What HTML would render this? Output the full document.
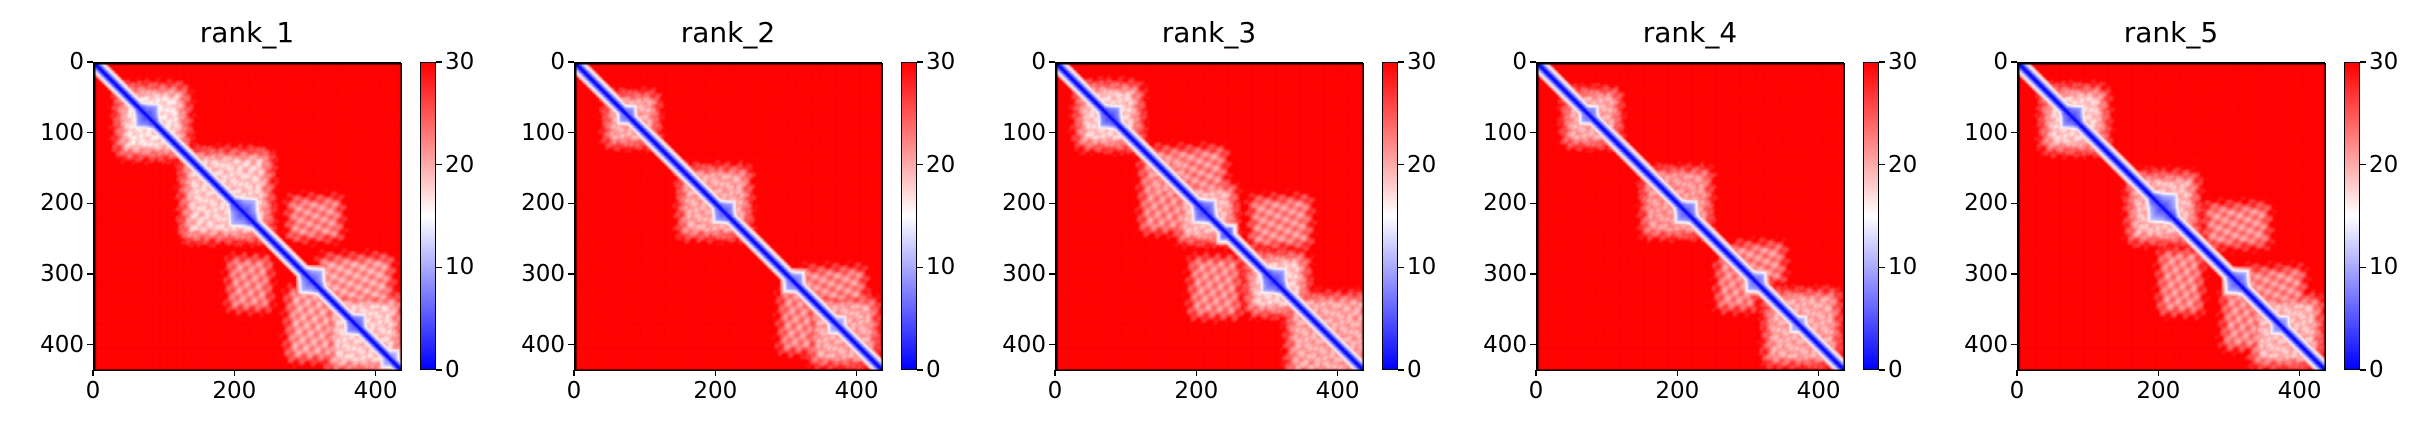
<!DOCTYPE html>
<html><head><meta charset="utf-8">
<style>
html,body{margin:0;padding:0;background:#fff;}
#fig{position:relative;width:2435px;height:438px;overflow:hidden;font-family:"DejaVu Sans","Liberation Sans",sans-serif;color:#000;}
.title{position:absolute;font-size:28px;top:16px;width:308px;text-align:center;}
.axes{position:absolute;top:62px;width:308px;height:308px;border:1.5px solid #000;box-sizing:border-box;}
.axes canvas{position:absolute;left:0;top:0;}
.cbar{position:absolute;top:62px;width:16px;height:308px;border:1.5px solid #000;box-sizing:border-box;background:linear-gradient(to top,#0000ff,#ffffff 50%,#ff0000);}
.tick{position:absolute;font-size:23px;line-height:1;}
.tmark{position:absolute;background:#000;}
</style></head>
<body>
<div id="fig"></div>
<script>
// ---- data ----
const panelTitles = ["rank_1","rank_2","rank_3","rank_4","rank_5"];
const nResidues = 436;
const axisTicks = [0,100,200,300,400];
const xAxisTicks = [0,200,400];
const colorbarTicks = [0,10,20,30];
const vmin = 0, vmax = 30;
// white-ish patches: [rowStart,rowEnd,colStart,colEnd,PAE value] (mirrored)
const patchesRank1 = [[50,115,50,115,18],[140,235,140,235,19],[200,240,285,340,22],[285,330,330,410,21],[345,420,345,420,19]];
const patchesRank2 = [[55,105,55,105,21],[160,235,160,235,21],[300,330,330,400,22],[345,415,345,415,21]];
const patchesRank3 = [[45,105,45,105,19],[130,180,140,230,22],[185,240,185,240,20],[200,250,285,350,22],[285,340,285,340,19],[340,430,340,430,21]];
const patchesRank4 = [[50,105,50,105,21],[160,235,160,235,22],[265,300,285,340,22],[335,415,335,415,21]];
const patchesRank5 = [[50,110,50,110,19],[170,240,170,240,20],[210,250,275,345,22],[300,335,330,395,22],[345,415,345,415,20]];
// low-error domain cores: [start,end,PAE value]
const coresRank1 = [[62,88,3],[195,228,3],[295,322,4],[360,380,4],[410,428,7]];
const coresRank2 = [[65,82,5],[200,222,4],[300,320,5],[362,380,7]];
const coresRank3 = [[65,88,3],[198,222,3],[235,248,4],[295,322,3]];
const coresRank4 = [[65,82,5],[200,222,4],[300,320,5],[362,378,7]];
const coresRank5 = [[65,88,3],[188,222,3],[298,322,4],[362,380,6]];
const allPatches = [patchesRank1,patchesRank2,patchesRank3,patchesRank4,patchesRank5];
const allCores = [coresRank1,coresRank2,coresRank3,coresRank4,coresRank5];

// ---- layout ----
const fig = document.getElementById('fig');
const L0 = 93, STEP = 481, AX = 308, TOP = 62;
const xScale = v => v / nResidues * AX;
const cScale = v => AX - (v - vmin) / (vmax - vmin) * AX;

function bwr(v){
  let t = Math.max(0, Math.min(1, (v - vmin) / (vmax - vmin)));
  if (t < 0.5){ const k = t/0.5; return [Math.round(255*k),Math.round(255*k),255]; }
  const k = (t-0.5)/0.5; return [255,Math.round(255*(1-k)),Math.round(255*(1-k))];
}
function paeAt(pi,i,j){
  const d = Math.abs(i-j);
  let v = 30;
  if (d < 3) v = 0.5; else if (d < 7) v = 3 + (d-3)*1.5; else if (d < 18) v = 9 + (d-7)*1.5;
  for (const p of allPatches[pi]){
    for (const [r,c] of [[i,j],[j,i]]){
      const dr = Math.max(p[0]-r,0,r-p[1]), dc = Math.max(p[2]-c,0,c-p[3]);
      const dist = Math.sqrt(dr*dr+dc*dc);
      const wob = 2.5*Math.sin(r*0.37+c*0.11)*Math.sin(c*0.29-r*0.05);
      v = Math.min(v, p[4] + wob + dist*0.45);
    }
  }
  for (const c of allCores[pi]){
    const m = (c[0]+c[1])/2, h = (c[1]-c[0])/2;
    const di = Math.abs(i-m), dj = Math.abs(j-m);
    const dd = Math.max(di,dj);
    if (dd < h + 10) v = Math.min(v, c[2] + d*0.25 + Math.max(0,dd-h)*1.2 + Math.abs(di-dj)*0.15);
  }
  return v;
}
function addTick(parent,text,x,y,align,name){
  const t = document.createElement('div');
  t.className='tick';t.textContent=text;
  
  
  if(align==='right'){t.style.right=(2435-x)+'px';t.style.top=(y-11)+'px';}
  else if(align==='center'){t.style.left=(x-40)+'px';t.style.width='80px';t.style.textAlign='center';t.style.top=y+'px';}
  else {t.style.left=x+'px';t.style.top=(y-11)+'px';}
  parent.appendChild(t);
}
function addMark(parent,x,y,w,h){
  const m=document.createElement('div');m.className='tmark';
  
  
  m.style.left=x+'px';m.style.top=y+'px';m.style.width=w+'px';m.style.height=h+'px';
  parent.appendChild(m);
}

panelTitles.forEach((title,pi)=>{
  const L = L0 + pi*STEP;
  const tl = document.createElement('div'); tl.className='title'; tl.textContent=title;
  
  
  tl.style.left = L+'px'; fig.appendChild(tl);

  const ax = document.createElement('div'); ax.className='axes'; ax.style.left=L+'px';
  
  
  const cv = document.createElement('canvas'); cv.width=AX; cv.height=AX;
  
  
  ax.appendChild(cv); fig.appendChild(ax);
  const ctx = cv.getContext('2d');
  const cell = 2;
  for(let i=0;i<nResidues;i+=cell){
    for(let j=0;j<nResidues;j+=cell){
      const c = bwr(paeAt(pi,i+1,j+1));
      ctx.fillStyle='rgb('+c.join(',')+')';
      ctx.fillRect(xScale(j),xScale(i),xScale(cell)+0.6,xScale(cell)+0.6);
    }
  }
  ctx.strokeStyle='#000';ctx.lineWidth=3;ctx.strokeRect(0,0,AX,AX);

  axisTicks.forEach(v=>{
    const y = TOP + xScale(v);
    addMark(fig,L-6,y-0.75,6,1.5);
    addTick(fig,String(v),L-9,y,'right','y-tick-label');
  });
  xAxisTicks.forEach(v=>{
    const x = L + xScale(v);
    addMark(fig,x-0.75,TOP+AX,1.5,6);
    addTick(fig,String(v),x,TOP+AX+10,'center','x-tick-label');
  });

  const cb = document.createElement('div'); cb.className='cbar'; cb.style.left=(L+327)+'px';
  
  
  fig.appendChild(cb);
  colorbarTicks.forEach(v=>{
    const y = TOP + cScale(v);
    addMark(fig,L+343,y-0.75,6,1.5);
    addTick(fig,String(v),L+352,y,'left','colorbar-tick-label');
  });
});
</script>
</body></html>
